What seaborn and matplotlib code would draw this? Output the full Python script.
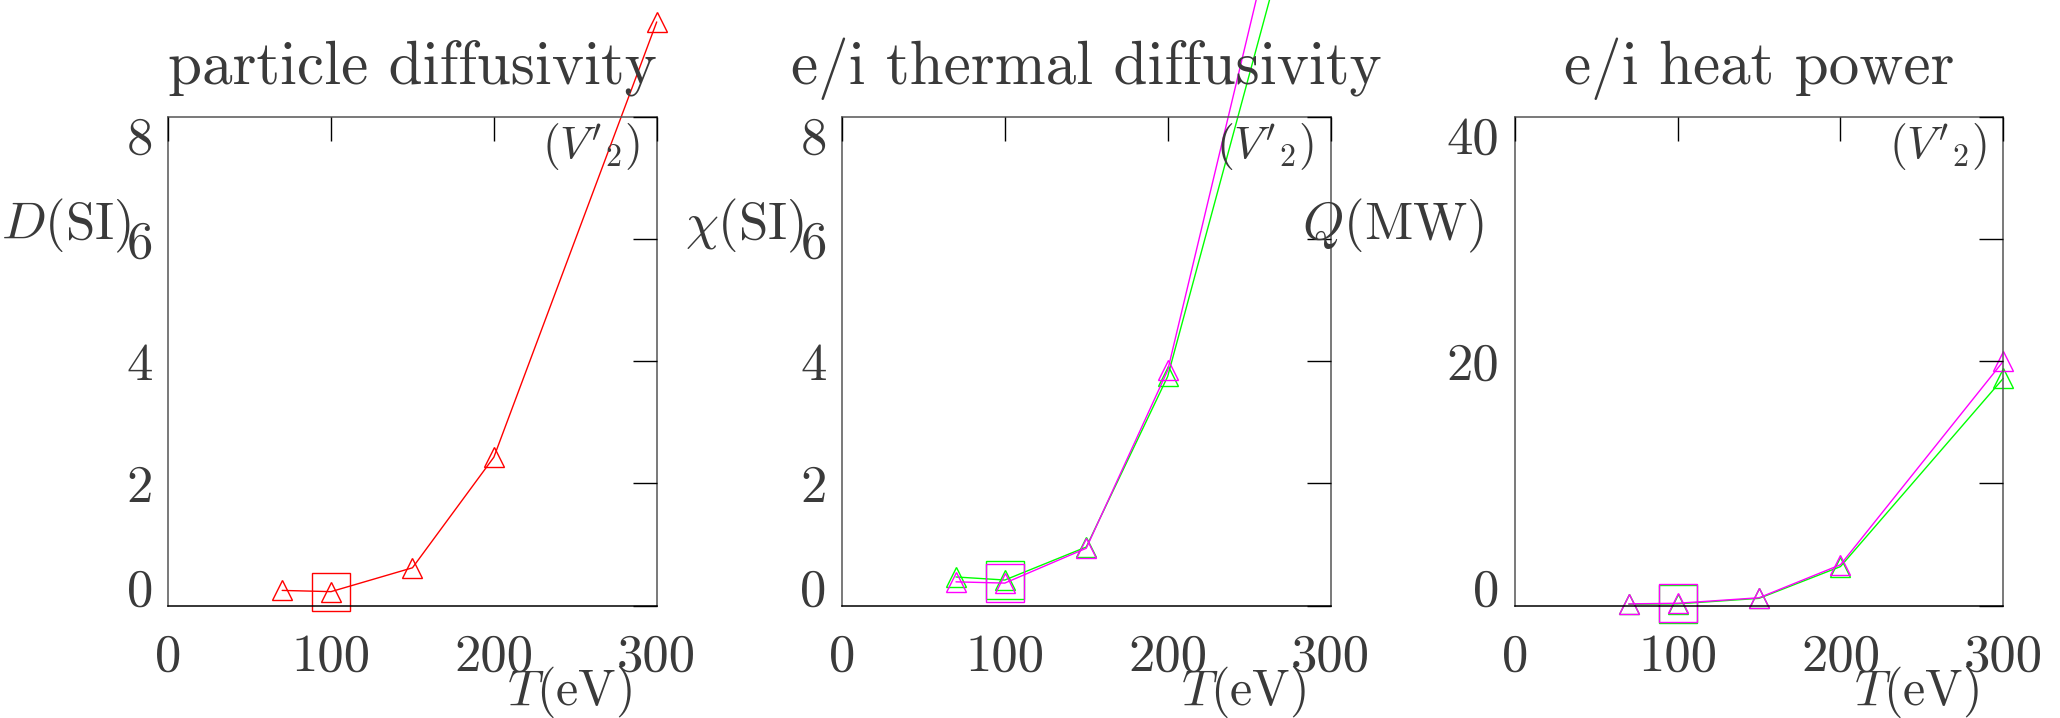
import matplotlib
matplotlib.use("Agg")
import matplotlib.pyplot as plt
import seaborn as sns

# Temperature scan (eV)
T_EV = [70, 100, 150, 200, 300]
T_REF = 100

# Particle diffusivity D (SI)
D_SI = [0.25, 0.23, 0.62, 2.43, 9.55]

# Electron / ion thermal diffusivity chi (SI)
CHI_E = [0.47, 0.42, 0.96, 3.75, 13.6]
CHI_I = [0.39, 0.37, 0.94, 3.85, 15.0]

# Electron / ion heat power Q (MW)
Q_E = [0.12, 0.15, 0.60, 3.20, 18.6]
Q_I = [0.15, 0.20, 0.65, 3.35, 20.0]

X_TICKS = [0, 100, 200, 300]
X_TICK_LABELS = ["0", "100", "200", "300"]
Y_TICKS_CHI = [0, 2, 4, 6, 8]
Y_TICK_LABELS_CHI = ["0", "2", "4", "6", "8"]
Y_TICKS_Q = [0, 10, 20, 30, 40]
Y_TICK_LABELS_Q = ["0", "", "20", "", "40"]

TITLES = ["particle diffusivity", "e/i thermal diffusivity", "e/i heat power"]
Y_LABELS = [r"$D$(SI)", r"$\chi$(SI)", r"$Q$(MW)"]
X_LABEL = r"$T$(eV)"
CASE_TAG = r"$(V'{}_2)$"

RED, GREEN, MAGENTA = "#ff0000", "#00ff00", "#ff00ff"
TEXT_COLOR = "#3a3a3a"

sns.set_theme(style="white")
plt.rcParams["font.family"] = ["cmr10", "DejaVu Serif"]
plt.rcParams["mathtext.fontset"] = "cm"
plt.rcParams["axes.formatter.use_mathtext"] = True
plt.rcParams["axes.unicode_minus"] = False

fig = plt.figure(figsize=(20.6, 7.18), dpi=100)
fig.patch.set_facecolor("white")

LEFTS = [0.08165, 0.40874, 0.73534]
BOTTOM, WIDTH, HEIGHT = 0.15641, 0.23714, 0.68106
YLAB_X = [-0.076, -0.078, -0.062]


def draw_series(ax, y, color):
    sns.lineplot(x=T_EV, y=y, ax=ax, color=color, linewidth=1.0,
                 marker="^", markersize=14, markerfacecolor="none",
                 markeredgecolor=color, markeredgewidth=1.0,
                 sort=False, errorbar=None, clip_on=False)
    sns.lineplot(x=[T_REF], y=[y[T_EV.index(T_REF)]], ax=ax, color=color,
                 linestyle="none", marker="s", markersize=28,
                 markerfacecolor="none", markeredgecolor=color,
                 markeredgewidth=1.0, errorbar=None, clip_on=False)


def style_axes(ax, yticks, ylabels, ymax, title, ylabel, ylab_x):
    ax.set_xlim(0, 300)
    ax.set_ylim(0, ymax)
    ax.set_axisbelow(False)
    ax.set_xticks(X_TICKS)
    ax.set_xticklabels(X_TICK_LABELS)
    ax.set_yticks(yticks)
    ax.set_yticklabels(ylabels)
    ax.set_xlabel("")
    ax.set_ylabel("")
    ax.tick_params(axis="both", direction="in", length=17.3, width=1.0,
                   color="black", top=True, right=True, labelsize=38,
                   labelcolor=TEXT_COLOR)
    ax.tick_params(axis="x", pad=20)
    ax.tick_params(axis="y", pad=11)
    ylab = ax.get_yticklabels()
    ylab[0].set_va("baseline")
    ylab[-1].set_va("top")
    for side in ("left", "right", "top"):
        ax.spines[side].set_color("#555555")
        ax.spines[side].set_linewidth(1.1)
    ax.spines["bottom"].set_color("black")
    ax.spines["bottom"].set_linewidth(1.1)
    ax.text(0.5, 1.067, title, transform=ax.transAxes, ha="center",
            va="baseline", fontsize=44, color=TEXT_COLOR)
    ax.text(ylab_x, 0.776, ylabel, transform=ax.transAxes, ha="right",
            va="center", fontsize=38, color=TEXT_COLOR)
    ax.text(0.95, -0.176, X_LABEL, transform=ax.transAxes, ha="right",
            va="center", fontsize=36, color=TEXT_COLOR)
    ax.text(0.966, 0.938, CASE_TAG, transform=ax.transAxes, ha="right",
            va="center", fontsize=33, color=TEXT_COLOR)


axes = [fig.add_axes([l, BOTTOM, WIDTH, HEIGHT]) for l in LEFTS]

draw_series(axes[0], D_SI, RED)
style_axes(axes[0], Y_TICKS_CHI, Y_TICK_LABELS_CHI, 8, TITLES[0], Y_LABELS[0], YLAB_X[0])

draw_series(axes[1], CHI_E, GREEN)
draw_series(axes[1], CHI_I, MAGENTA)
style_axes(axes[1], Y_TICKS_CHI, Y_TICK_LABELS_CHI, 8, TITLES[1], Y_LABELS[1], YLAB_X[1])

draw_series(axes[2], Q_E, GREEN)
draw_series(axes[2], Q_I, MAGENTA)
style_axes(axes[2], Y_TICKS_Q, Y_TICK_LABELS_Q, 40, TITLES[2], Y_LABELS[2], YLAB_X[2])

fig.savefig("out.png", dpi=100, facecolor="white")
